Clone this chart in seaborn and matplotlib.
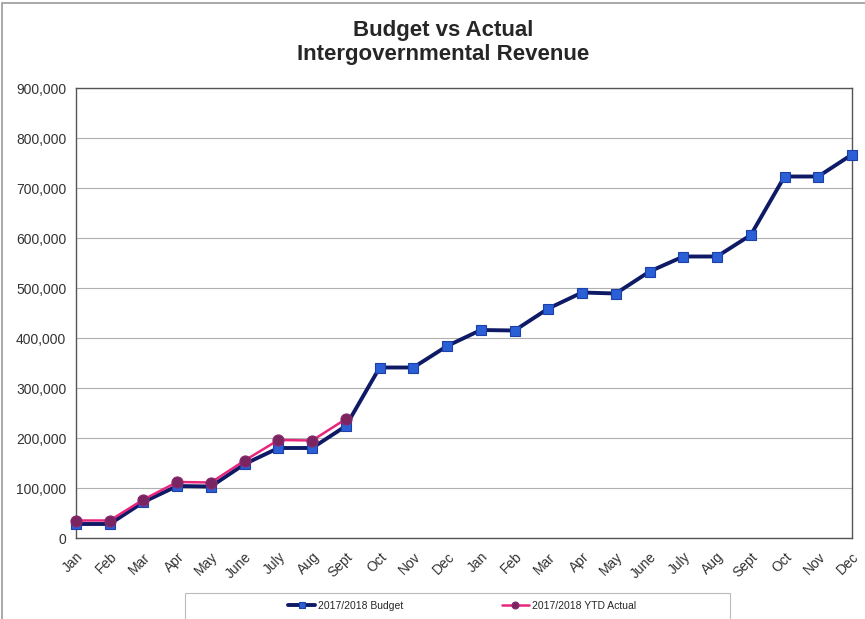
import numpy as np
import pandas as pd
import matplotlib.pyplot as plt
import seaborn as sns
from matplotlib.patches import Rectangle

# dati
mesi = ["Jan", "Feb", "Mar", "Apr", "May", "June", "July", "Aug", "Sept", "Oct", "Nov", "Dec",
        "Jan", "Feb", "Mar", "Apr", "May", "June", "July", "Aug", "Sept", "Oct", "Nov", "Dec"]
budget = [28000, 28000, 72000, 104000, 103000, 148000, 180000, 180000, 224000, 341000, 341000, 384000,
          416000, 415000, 459000, 491000, 489000, 533000, 563000, 563000, 606000, 723000, 723000, 767000]
actual = [35000, 35000, 77000, 112000, 111000, 155000, 196000, 195000, 238000]

df_budget = pd.DataFrame({"pos": range(len(budget)), "valore": budget})
df_actual = pd.DataFrame({"pos": range(len(actual)), "valore": actual})

sns.set_style("white")
plt.rcParams['font.family'] = ['Liberation Sans', 'DejaVu Sans']

fig = plt.figure(figsize=(8.65, 6.19), dpi=100)
ax = fig.add_axes([76 / 865, 1 - 538 / 619, (852 - 76) / 865, (538 - 88) / 619])

sns.lineplot(data=df_budget, x="pos", y="valore", ax=ax, color="#0f1a66", linewidth=2.8,
             marker="s", markersize=7, markerfacecolor="#2a5fd6", markeredgecolor="#1c3fa8",
             markeredgewidth=0.8, label="2017/2018 Budget", zorder=3, clip_on=False)
sns.lineplot(data=df_actual, x="pos", y="valore", ax=ax, color="#e8267c", linewidth=1.8,
             marker="o", markersize=8, markerfacecolor="#7a2462", markeredgecolor="#8a2a6c",
             markeredgewidth=0.8, label="2017/2018 YTD Actual", zorder=4, clip_on=False)

ax.set_xlim(0, len(mesi) - 1)
ax.set_ylim(0, 900000)
ax.set_yticks(np.arange(0, 900001, 100000))
ax.set_yticklabels([f"{v:,}" for v in range(0, 900001, 100000)], fontsize=10, color="#333333")
ax.set_xticks(range(len(mesi)))
ax.set_xticklabels(mesi, rotation=45, ha="right", rotation_mode="anchor", fontsize=10, color="#333333")
ax.set_xlabel("")
ax.set_ylabel("")

ax.grid(axis="y", color="#b0b0b0", linewidth=0.8)
ax.set_axisbelow(True)
for lato in ax.spines.values():
    lato.set_color("#555555")
    lato.set_linewidth(1.0)
ax.tick_params(axis="x", direction="inout", length=7, width=0.8, color="#555555", pad=5)
ax.tick_params(axis="y", direction="out", length=4, width=0.8, color="#555555", pad=3)

fig.suptitle("Budget vs Actual\nIntergovernmental Revenue", x=0.512, y=0.968,
             fontsize=16, fontweight="bold", linespacing=1.2)

# legenda senza cornice, il riquadro lo disegno a parte
legenda = ax.legend(loc="center left", bbox_to_anchor=(283 / 865, 1 - 606 / 619), bbox_transform=fig.transFigure,
                    ncol=2, frameon=False, fontsize=7.5, columnspacing=9.4,
                    handlelength=2.6, handletextpad=0.3, borderpad=0)
for h in legenda.legend_handles:
    h.set_markersize(5)
fig.patches.append(Rectangle((185 / 865, -0.02), (730 - 185) / 865, (0.02 + 1 - 593 / 619),
                             transform=fig.transFigure, fill=False, edgecolor="#bbbbbb", linewidth=0.8))

# cornice della pagina
fig.patches.append(Rectangle((0.002, -0.01), 1.02, 1.005, transform=fig.transFigure,
                             fill=False, edgecolor="#999999", linewidth=1.2))

fig.savefig("out.png", dpi=100)
